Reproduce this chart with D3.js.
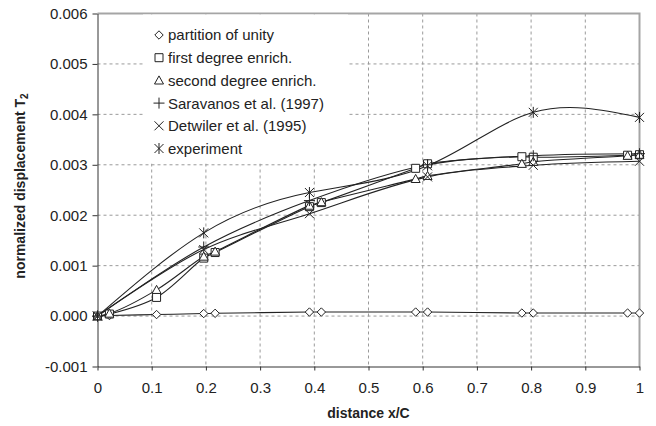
<!doctype html>
<html lang="en">
<head>
<meta charset="utf-8">
<title>normalized displacement T2</title>
<script src="https://cdn.jsdelivr.net/npm/d3@7"></script>
<style>
    body { margin: 0; background: #fff; }
    text { font-family: "Liberation Sans", Arial, sans-serif; fill: #222; }
    .grid line { stroke: #9a9a9a; stroke-dasharray: 3,3; stroke-width: 1; }
    .axis path, .axis line { stroke: #333; }
    .series { fill: none; stroke: #222; stroke-width: 1.1; }
    .mark { fill: #fff; stroke: #222; stroke-width: 1; }
</style>
</head>
<body>
<svg width="656" height="426"></svg>
<script>
// tick values and labels
var xTicks = [0, 0.1, 0.2, 0.3, 0.4, 0.5, 0.6, 0.7, 0.8, 0.9, 1];
var xLabels = ["0", "0.1", "0.2", "0.3", "0.4", "0.5", "0.6", "0.7", "0.8", "0.9", "1"];
var yTicks = [-0.001, 0, 0.001, 0.002, 0.003, 0.004, 0.005, 0.006];
var yLabels = ["-0.001", "0.000", "0.001", "0.002", "0.003", "0.004", "0.005", "0.006"];

// model nodes (finite element results) and reference positions
var nodeX = [0, 0.022, 0.109, 0.196, 0.217, 0.391, 0.413, 0.587, 0.609, 0.783, 0.804, 0.978, 1];
var refX  = [0, 0.196, 0.391, 0.609, 0.804, 1];

var partitionY  = [0, 0.00001, 0.00003, 0.00005, 0.000055, 0.00008, 0.00008, 0.00008, 0.00008, 0.00006, 0.00006, 0.00006, 0.00006];
var firstY      = [0, 0.00004, 0.00037, 0.00115, 0.00126, 0.00217, 0.00225, 0.00293, 0.00302, 0.00316, 0.00315, 0.00319, 0.0032];
var secondY     = [0, 0.00005, 0.00052, 0.00118, 0.00128, 0.00219, 0.00226, 0.00272, 0.00278, 0.00302, 0.00306, 0.00318, 0.0032];
var saravanosY  = [0, 0.00137, 0.00229, 0.00300, 0.00318, 0.00322];
var detwilerY   = [0, 0.00132, 0.00203, 0.00276, 0.00299, 0.00307];
var experimentY = [0, 0.00165, 0.00245, 0.00298, 0.00404, 0.00394];

var seriesNames = ["partition of unity", "first degree enrich.", "second degree enrich.",
                   "Saravanos et al. (1997)", "Detwiler et al. (1995)", "experiment"];
var seriesX = [nodeX, nodeX, nodeX, refX, refX, refX];
var seriesY = [partitionY, firstY, secondY, saravanosY, detwilerY, experimentY];
var seriesMark = ["diamond", "square", "triangle", "plus", "cross", "star"];

var svg = d3.select("svg");
var pLeft = 97.5, pRight = 639.5, pTop = 13.5, pBottom = 366.5;

var x = d3.scaleLinear().domain([0, 1]).range([pLeft, pRight]);
var y = d3.scaleLinear().domain([-0.001, 0.006]).range([pBottom, pTop]);

// grid
var grid = svg.append("g").attr("class", "grid");
grid.selectAll(".v").data(xTicks.slice(1, -1)).enter().append("line")
    .attr("x1", function(d) { return x(d); }).attr("x2", function(d) { return x(d); })
    .attr("y1", pTop).attr("y2", pBottom);
grid.selectAll(".h").data(yTicks.slice(1, -1)).enter().append("line")
    .attr("x1", pLeft).attr("x2", pRight)
    .attr("y1", function(d) { return y(d); }).attr("y2", function(d) { return y(d); });

// plot area border (top / right)
svg.append("path")
    .attr("d", "M" + pLeft + "," + pTop + "H" + pRight + "V" + pBottom)
    .attr("fill", "none").attr("stroke", "#a5a5a5").attr("stroke-width", 2);

// legend background hides the grid behind it
svg.append("rect")
    .attr("x", 143).attr("y", pTop + 1).attr("width", 205).attr("height", 149)
    .attr("fill", "#fff");

// axes
svg.append("g")
    .attr("class", "axis")
    .attr("transform", "translate(" + pLeft + ",0)")
    .call(d3.axisLeft(y).tickValues(yTicks)
        .tickFormat(function(d, i) { return yLabels[i]; })
        .tickSize(5).tickSizeOuter(0).tickPadding(5))
    .selectAll("text").style("font-size", "15px");

svg.append("g")
    .attr("class", "axis")
    .attr("transform", "translate(0," + pBottom + ")")
    .call(d3.axisBottom(x).tickValues(xTicks)
        .tickFormat(function(d, i) { return xLabels[i]; })
        .tickSize(4).tickSizeOuter(0).tickPadding(12))
    .selectAll("text").style("font-size", "15px");

svg.selectAll(".axis").attr("font-family", null);
svg.selectAll(".axis text").attr("fill", "#222");

// axis titles
svg.append("text")
    .attr("x", (pLeft + pRight) / 2).attr("y", 418)
    .attr("text-anchor", "middle")
    .style("font-size", "14px").style("font-weight", "bold")
    .text("distance x/C");

var yt = svg.append("text")
    .attr("transform", "translate(25," + ((pTop + pBottom) / 2 - 4) + ") rotate(-90)")
    .attr("text-anchor", "middle")
    .style("font-size", "14px").style("font-weight", "bold");
yt.append("tspan").text("normalized displacement T");
yt.append("tspan").attr("dy", 3).style("font-size", "10px").text("2");

// marker shapes
function markPath(type, cx, cy) {
    var s;
    switch (type) {
        case "diamond": s = 4.2;
            return "M" + cx + "," + (cy - s) + "L" + (cx + s) + "," + cy + "L" + cx + "," + (cy + s) + "L" + (cx - s) + "," + cy + "Z";
        case "square": s = 4;
            return "M" + (cx - s) + "," + (cy - s) + "h" + 2 * s + "v" + 2 * s + "h" + (-2 * s) + "Z";
        case "triangle": s = 4.5;
            return "M" + cx + "," + (cy - s) + "L" + (cx + s) + "," + (cy + s * 0.8) + "L" + (cx - s) + "," + (cy + s * 0.8) + "Z";
        case "plus": s = 5.5;
            return "M" + (cx - s) + "," + cy + "h" + 2 * s + "M" + cx + "," + (cy - s) + "v" + 2 * s;
        case "cross": s = 4.5;
            return "M" + (cx - s) + "," + (cy - s) + "l" + 2 * s + "," + 2 * s + "M" + (cx + s) + "," + (cy - s) + "l" + (-2 * s) + "," + 2 * s;
        case "star": s = 4.5;
            return "M" + (cx - s) + "," + (cy - s) + "l" + 2 * s + "," + 2 * s + "M" + (cx + s) + "," + (cy - s) + "l" + (-2 * s) + "," + 2 * s +
                   "M" + cx + "," + (cy - s - 1) + "v" + (2 * s + 2);
    }
}

// series lines and markers
seriesNames.forEach(function(name, k) {
    var pts = seriesX[k].map(function(v, i) { return [v, seriesY[k][i]]; });
    var line = d3.line()
        .curve(k === 5 ? d3.curveNatural : d3.curveCatmullRom)
        .x(function(d) { return x(d[0]); })
        .y(function(d) { return y(d[1]); });
    svg.append("path").attr("class", "series").attr("d", line(pts));
});

seriesNames.forEach(function(name, k) {
    var pts = seriesX[k].map(function(v, i) { return [v, seriesY[k][i]]; });
    svg.append("g").selectAll("path").data(pts).enter().append("path")
        .attr("class", "mark")
        .attr("d", function(d) { return markPath(seriesMark[k], x(d[0]), y(d[1])); });
});

// legend
var legend = svg.append("g").selectAll("g")
    .data(seriesNames)
    .enter().append("g")
    .attr("transform", function(d, i) { return "translate(159," + (35 + i * 22.7) + ")"; });

legend.append("path")
    .attr("class", "mark")
    .attr("d", function(d, i) { return markPath(seriesMark[i], 0, 0); });

legend.append("text")
    .attr("x", 9).attr("dy", "0.36em")
    .style("font-size", "15px")
    .text(function(d) { return d; });
</script>
</body>
</html>
